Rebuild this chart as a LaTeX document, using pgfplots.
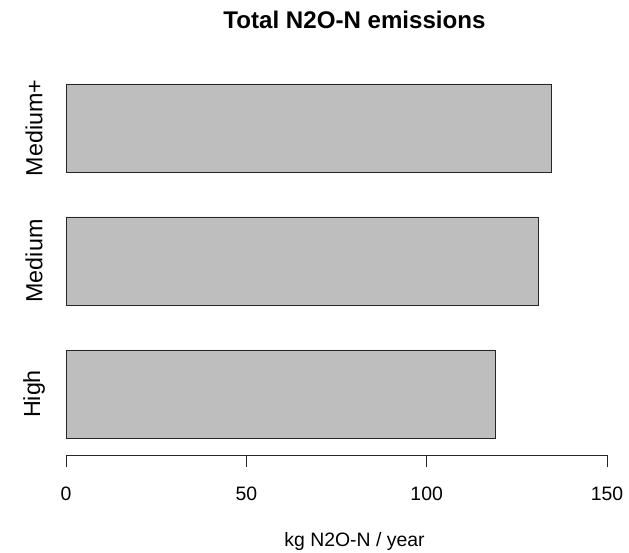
\documentclass[border=0pt]{standalone}
\usepackage{pgfplots}
\pgfplotsset{compat=1.18}
\usepackage{fontspec}
\setmainfont{Liberation Sans}
\definecolor{bargray}{RGB}{190,190,190}
\begin{document}
\begin{tikzpicture}
\useasboundingbox[fill=white] (0,0) rectangle (629pt,552pt);
\begin{axis}[
  at={(66pt,97pt)}, anchor=south west,
  scale only axis,
  width=541pt, height=393.5pt,
  xbar,
  xmin=0, xmax=150,
  ymin=-0.4586, ymax=2.5,
  bar width=0.662,
  axis x line*=bottom,
  axis y line*=left,
  y axis line style={draw=none},
  ytick style={draw=none},
  ytick={0,1,2},
  yticklabels={High,Medium,Medium+},
  xtick={0,50,100,150},
  tick align=outside,
  major tick length=12pt,
  x axis line style={line width=0.9pt, color=black!85},
  xtick style={line width=0.9pt, color=black!85},
  /pgf/number format/assume math mode=true,
  xticklabel style={font=\fontsize{19.4}{23}\selectfont, anchor=center, yshift=-27pt},
  yticklabel style={font=\fontsize{23.3}{28}\selectfont, rotate=90, anchor=center, yshift=20pt},
  xlabel={kg N2O-N / year},
  xlabel style={font=\fontsize{19.4}{23}\selectfont, at={(axis description cs:0.5,0)}, anchor=center, yshift=-86pt, xshift=18pt},
  title={Total N2O-N emissions},
  title style={font=\bfseries\fontsize{24.1}{29}\selectfont, at={(axis description cs:0.5,1)}, anchor=center, yshift=35.5pt, xshift=18pt},
  clip=false,
]
\addplot[fill=bargray, draw=black!85, line width=0.9pt] coordinates {(119.0,0) (130.9,1) (134.5,2)};
\end{axis}
\end{tikzpicture}
\end{document}
